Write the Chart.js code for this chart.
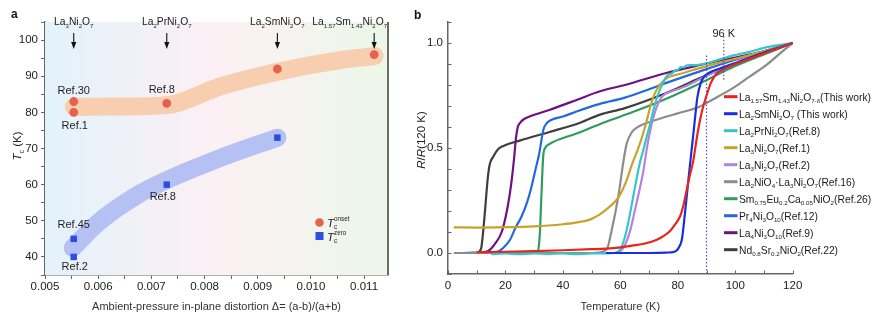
<!DOCTYPE html>
<html>
<head>
<meta charset="utf-8">
<script src="https://cdn.jsdelivr.net/npm/chart.js@4.4.1/dist/chart.umd.min.js"></script>
<style>
  html, body { margin: 0; padding: 0; background: #fff; }
  #wrap { position: relative; width: 878px; height: 321px; overflow: hidden; }
  #cA { position: absolute; left: 0; top: 0; }
  #cB { position: absolute; left: 410px; top: 0; }
</style>
</head>
<body>
<div id="wrap">
  <canvas id="cA" width="410" height="321"></canvas>
  <canvas id="cB" width="468" height="321"></canvas>
</div>
<script>
// ---------- Panel a: Tc versus in-plane distortion ----------
const deltaOnset = [0.00554, 0.00554, 0.00729, 0.00937, 0.01119];
const tcOnset    = [83, 80, 82.5, 92, 96];
const deltaZero  = [0.00554, 0.00554, 0.00729, 0.00937];
const tcZero     = [45, 40, 60, 73];

// guide bands drawn behind the points
const onsetBandX = [0.00554, 0.0064, 0.0073, 0.0083, 0.0094, 0.0104, 0.0112];
const onsetBandY = [81.5, 81.6, 82.0, 87.2, 91.3, 94.1, 95.6];
const zeroBandX  = [0.00552, 0.0060, 0.0067, 0.0073, 0.0085, 0.00937];
const zeroBandY  = [42.5, 49.5, 56.8, 61.3, 68.5, 73.0];

const compoundNames = ['La_{3}Ni_{2}O_{7}', 'La_{2}PrNi_{2}O_{7}', 'La_{2}SmNi_{2}O_{7}', 'La_{1.57}Sm_{1.43}Ni_{2}O_{7}'];
const compoundDelta = [0.00554, 0.00729, 0.00937, 0.01119];

const onsetRefs = ['Ref.30', 'Ref.1', 'Ref.8', '', ''];
const zeroRefs  = ['Ref.45', 'Ref.2', 'Ref.8', ''];

const xTicksA = [0.005, 0.006, 0.007, 0.008, 0.009, 0.010, 0.011];
const yTicksA = [40, 50, 60, 70, 80, 90, 100];

// ---------- Panel b: normalized resistance curves ----------
const T_la157 = [10, 20, 30, 40, 50, 55, 60, 64, 68.6, 72.7, 75, 77.3, 79, 80.8, 82, 83.1, 84.2, 85.4, 86.3, 87.1, 88.5, 90, 91.5, 93.5, 96, 100, 105, 110, 115, 120];
const R_la157 = [0.004, 0.006, 0.009, 0.013, 0.018, 0.021, 0.027, 0.035, 0.045, 0.063, 0.08, 0.105, 0.135, 0.175, 0.23, 0.30, 0.37, 0.44, 0.52, 0.587, 0.68, 0.75, 0.81, 0.855, 0.875, 0.9, 0.925, 0.95, 0.975, 1.0];

const T_la2sm = [55, 60, 70, 76, 78.5, 79.6, 80.5, 81.4, 82.5, 83.7, 84.8, 85.6, 86.8, 88, 89.5, 92, 96, 100, 110, 120];
const R_la2sm = [0.0, 0.0, 0.0, 0.002, 0.005, 0.012, 0.03, 0.063, 0.19, 0.35, 0.49, 0.59, 0.74, 0.81, 0.845, 0.865, 0.885, 0.905, 0.955, 1.0];

const T_la2pr = [15, 20, 25, 30, 35, 40, 45, 50, 57, 59.9, 61, 62.2, 63.4, 64.5, 65.6, 66.8, 68, 69.2, 70.5, 71.5, 73, 75, 76, 77, 78, 79, 80, 81, 82, 83, 84, 86, 89, 93, 99, 105, 111, 120];
const R_la2pr = [-0.006, -0.002, -0.006, -0.002, -0.005, -0.002, -0.006, -0.002, -0.001, 0.016, 0.05, 0.11, 0.19, 0.27, 0.35, 0.43, 0.49, 0.555, 0.62, 0.68, 0.75, 0.815, 0.84, 0.85, 0.855, 0.868, 0.872, 0.885, 0.884, 0.893, 0.895, 0.895, 0.9, 0.915, 0.94, 0.958, 0.98, 1.0];

const T_la3ref1 = [2, 10, 20, 30, 35, 40, 45, 49.4, 53, 56.4, 58.5, 60, 62, 64, 66, 67.5, 69, 70.5, 72, 74, 76.5, 80, 85, 90, 100, 110, 120];
const R_la3ref1 = [0.122, 0.121, 0.123, 0.127, 0.131, 0.137, 0.146, 0.159, 0.185, 0.222, 0.25, 0.28, 0.34, 0.42, 0.49, 0.55, 0.62, 0.70, 0.76, 0.805, 0.835, 0.85, 0.87, 0.89, 0.925, 0.96, 1.0];

const T_la3ref2 = [50, 58, 60.5, 62, 63.5, 65, 66.5, 68, 69.5, 71, 72.5, 74, 75.5, 78, 82, 88, 95, 105, 120];
const R_la3ref2 = [0.0, 0.0, 0.015, 0.05, 0.11, 0.2, 0.29, 0.39, 0.52, 0.62, 0.69, 0.735, 0.757, 0.77, 0.79, 0.83, 0.875, 0.93, 1.0];

const T_la2nio4 = [2, 10, 20, 30, 40, 50, 55.2, 57, 59.3, 61, 62.2, 64, 65.5, 69.2, 75, 80, 87.7, 92, 99.3, 105, 111, 116, 120];
const R_la2nio4 = [0.0, 0.0, 0.0, 0.0, 0.0, 0.0, 0.016, 0.11, 0.27, 0.43, 0.52, 0.575, 0.595, 0.619, 0.645, 0.665, 0.698, 0.73, 0.786, 0.84, 0.897, 0.955, 1.0];

const T_smeuca = [10, 20, 31, 31.5, 32, 32.3, 32.6, 32.9, 33.2, 33.8, 35, 45, 55, 65, 76, 88, 100, 110, 120];
const R_smeuca = [0.0, 0.0, 0.0, 0.02, 0.1, 0.2, 0.3, 0.4, 0.47, 0.5, 0.516, 0.57, 0.625, 0.675, 0.735, 0.81, 0.89, 0.945, 1.0];

const T_pr4 = [12, 17, 19.3, 21.6, 23.5, 25.6, 27.5, 29.1, 30.5, 31.8, 33.2, 34.5, 36.1, 40, 45, 52.9, 61.6, 70, 76, 87.7, 100, 110, 120];
const R_pr4 = [0.0, 0.005, 0.025, 0.063, 0.12, 0.174, 0.24, 0.317, 0.4, 0.476, 0.587, 0.62, 0.635, 0.65, 0.675, 0.71, 0.74, 0.78, 0.81, 0.865, 0.92, 0.96, 1.0];

const T_la4 = [10, 14, 16.4, 18.7, 20.5, 21.5, 22.2, 23, 23.6, 24.3, 25.1, 26.5, 28, 35, 45, 52.9, 61.6, 76, 87.7, 96, 110, 120];
const R_la4 = [0.0, 0.01, 0.045, 0.1, 0.2, 0.28, 0.35, 0.45, 0.54, 0.6, 0.62, 0.638, 0.648, 0.68, 0.73, 0.77, 0.8, 0.857, 0.895, 0.92, 0.96, 1.0];

const T_nd = [5, 10, 11.5, 12.3, 13, 13.8, 14.5, 15.8, 17.5, 19.3, 25, 35, 46, 52.9, 61.6, 76, 87.7, 100, 110, 120];
const R_nd = [0.0, 0.002, 0.02, 0.11, 0.22, 0.35, 0.42, 0.46, 0.495, 0.51, 0.535, 0.575, 0.62, 0.659, 0.69, 0.762, 0.833, 0.9, 0.95, 1.0];

const legendLabels = [
  'La_{1.57}Sm_{1.43}Ni_{2}O_{7-δ}(This work)',
  'La_{2}SmNi_{2}O_{7} (This work)',
  'La_{2}PrNi_{2}O_{7}(Ref.8)',
  'La_{3}Ni_{2}O_{7}(Ref.1)',
  'La_{3}Ni_{2}O_{7}(Ref.2)',
  'La_{2}NiO_{4}·La_{3}Ni_{2}O_{7}(Ref.16)',
  'Sm_{0.75}Eu_{0.2}Ca_{0.05}NiO_{2}(Ref.26)',
  'Pr_{4}Ni_{3}O_{10}(Ref.12)',
  'La_{4}Ni_{3}O_{10}(Ref.9)',
  'Nd_{0.8}Sr_{0.2}NiO_{2}(Ref.22)'
];

// dotted markers at 90 K and 96 K
const refLineT    = [90, 96];
const refLineLow  = [-0.1, 0.825];
const refLineHigh = [0.944, 1.04];
const refLineText = ['', '96 K'];

const xTicksB = [0, 20, 40, 60, 80, 100, 120];
const yTicksB = [0, 0.5, 1.0];

// ---------- drawing helpers ----------
const FONT = '"Liberation Sans", Arial, Helvetica, sans-serif';
Chart.defaults.font.family = FONT;

function parseRich(s) {
  const runs = [];
  let buf = '', italic = false, i = 0;
  const flush = () => { if (buf) { runs.push({ t: buf, kind: 'n', italic }); buf = ''; } };
  while (i < s.length) {
    const ch = s[i];
    if ((ch === '_' || ch === '^') && s[i + 1] === '{') {
      flush();
      const end = s.indexOf('}', i);
      runs.push({ t: s.slice(i + 2, end), kind: ch === '_' ? 'sub' : 'sup', italic: false });
      i = end + 1;
    } else if (ch === '~') {
      flush(); italic = !italic; i++;
    } else { buf += ch; i++; }
  }
  flush();
  return runs;
}

function layoutRich(ctx, s, size, subScale) {
  const runs = parseRich(s);
  const small = +(size * (subScale || 0.62)).toFixed(1);
  const items = [];
  let w = 0;
  for (let k = 0; k < runs.length; k++) {
    const r = runs[k];
    if (r.kind === 'n') {
      ctx.font = (r.italic ? 'italic ' : '') + size + 'px ' + FONT;
      items.push({ t: r.t, x: w, dy: 0, font: ctx.font });
      w += ctx.measureText(r.t).width;
    } else {
      ctx.font = small + 'px ' + FONT;
      const dyOf = kind => kind === 'sub' ? size * 0.26 : -size * 0.45;
      const mw = ctx.measureText(r.t).width;
      items.push({ t: r.t, x: w, dy: dyOf(r.kind), font: ctx.font });
      let adv = mw;
      const nx = runs[k + 1];
      if (nx && nx.kind !== 'n' && nx.kind !== r.kind) {
        const mw2 = ctx.measureText(nx.t).width;
        items.push({ t: nx.t, x: w, dy: dyOf(nx.kind), font: ctx.font });
        adv = Math.max(mw, mw2);
        k++;
      }
      w += adv;
    }
  }
  return { items, w };
}

function drawRich(ctx, s, x, y, size, align, color, subScale) {
  const L = layoutRich(ctx, s, size, subScale);
  const x0 = align === 'center' ? x - L.w / 2 : align === 'right' ? x - L.w : x;
  ctx.save();
  ctx.fillStyle = color || '#222';
  ctx.textAlign = 'left';
  ctx.textBaseline = 'alphabetic';
  for (const it of L.items) { ctx.font = it.font; ctx.fillText(it.t, x0 + it.x, y + it.dy); }
  ctx.restore();
  return L.w;
}

const near = (v, list) => list.some(t => Math.abs(v - t) < 1e-7);

// ---------- panel a plugins ----------
const panelABackground = {
  id: 'panelABackground',
  beforeDatasetsDraw(chart) {
    const { ctx, chartArea: a } = chart;
    const g = ctx.createLinearGradient(a.left, 0, a.right, 0);
    g.addColorStop(0, '#e3f2fb');
    g.addColorStop(0.5, '#fcf0f4');
    g.addColorStop(1, '#ecf7e9');
    ctx.save();
    ctx.fillStyle = g;
    ctx.fillRect(a.left, a.top, a.right - a.left, a.bottom - a.top);
    ctx.restore();
  }
};

const panelAText = {
  id: 'panelAText',
  afterDraw(chart) {
    const { ctx, chartArea: a, scales: { x, y } } = chart;
    ctx.save();
    // right frame line
    ctx.strokeStyle = '#6a6a6a';
    ctx.lineWidth = 2;
    ctx.beginPath();
    ctx.moveTo(a.right, a.top);
    ctx.lineTo(a.right, a.bottom);
    ctx.stroke();

    // panel letter
    ctx.fillStyle = '#111';
    ctx.font = 'bold 12px ' + FONT;
    ctx.textBaseline = 'middle';
    ctx.fillText('a', 11, 15);

    // y title
    ctx.save();
    ctx.translate(17, 146);
    ctx.rotate(-Math.PI / 2);
    drawRich(ctx, '~T~_{c} (K)', 0, 4, 11.5, 'center', '#222');
    ctx.restore();

    // compound names with arrows
    compoundNames.forEach((name, i) => {
      const px = x.getPixelForValue(compoundDelta[i]);
      const L = layoutRich(ctx, name, 10.3, 0.58);
      const cx = Math.min(px, a.right - L.w / 2 - 1);
      drawRich(ctx, name, cx, 25.3, 10.3, 'center', '#1a1a1a', 0.58);
      ctx.strokeStyle = '#111';
      ctx.fillStyle = '#111';
      ctx.lineWidth = 1.1;
      ctx.beginPath();
      ctx.moveTo(px, 33);
      ctx.lineTo(px, 44);
      ctx.stroke();
      ctx.beginPath();
      ctx.moveTo(px - 2.6, 42);
      ctx.lineTo(px + 2.6, 42);
      ctx.lineTo(px, 49);
      ctx.closePath();
      ctx.fill();
    });

    // reference labels next to the points
    const offsOnset = [[0, -11], [1, 14], [-5, -13]];
    const offsZero = [[0, -14], [1, 10], [-4, 12]];
    ctx.font = '11px ' + FONT;
    ctx.fillStyle = '#1e1e1e';
    ctx.textAlign = 'center';
    ctx.textBaseline = 'middle';
    onsetRefs.forEach((t, i) => {
      if (!t) return;
      const px = x.getPixelForValue(deltaOnset[i]), py = y.getPixelForValue(tcOnset[i]);
      ctx.fillText(t, px + offsOnset[i][0], py + offsOnset[i][1]);
    });
    zeroRefs.forEach((t, i) => {
      if (!t) return;
      const px = x.getPixelForValue(deltaZero[i]), py = y.getPixelForValue(tcZero[i]);
      ctx.fillText(t, px + offsZero[i][0], py + offsZero[i][1]);
    });

    // legend
    ctx.fillStyle = '#e9604c';
    ctx.beginPath();
    ctx.arc(319.5, 222.5, 4.3, 0, Math.PI * 2);
    ctx.fill();
    ctx.fillStyle = '#2d4de0';
    ctx.fillRect(315.5, 232, 8, 8);
    drawRich(ctx, '~T~_{c}^{onset}', 327, 226.5, 11.5, 'left', '#222', 0.55);
    drawRich(ctx, '~T~_{c}^{zero}', 327, 240.5, 11.5, 'left', '#222', 0.55);
    ctx.restore();
  }
};

const chartA = new Chart(document.getElementById('cA'), {
  type: 'scatter',
  data: {
    datasets: [
      {
        label: 'Tc onset',
        data: deltaOnset.map((d, i) => ({ x: d, y: tcOnset[i] })),
        pointStyle: 'circle', pointRadius: 4.4, backgroundColor: '#e9604c', borderWidth: 0
      },
      {
        label: 'Tc zero',
        data: deltaZero.map((d, i) => ({ x: d, y: tcZero[i] })),
        pointStyle: 'rect', pointRadius: 4.6, backgroundColor: '#2d4de0', borderWidth: 0
      },
      {
        label: 'onset band',
        data: onsetBandX.map((d, i) => ({ x: d, y: onsetBandY[i] })),
        showLine: true, borderColor: '#f7cfb0', borderWidth: 18,
        borderCapStyle: 'round', borderJoinStyle: 'round',
        cubicInterpolationMode: 'monotone', pointRadius: 0, fill: false
      },
      {
        label: 'zero band',
        data: zeroBandX.map((d, i) => ({ x: d, y: zeroBandY[i] })),
        showLine: true, borderColor: '#b5c0f3', borderWidth: 18,
        borderCapStyle: 'round', borderJoinStyle: 'round',
        cubicInterpolationMode: 'monotone', pointRadius: 0, fill: false
      }
    ]
  },
  options: {
    responsive: false,
    animation: false,
    events: [],
    layout: { padding: { left: 0, right: 22, top: 22, bottom: 0 } },
    plugins: { legend: { display: false }, tooltip: { enabled: false } },
    scales: {
      x: {
        type: 'linear', min: 0.005, max: 0.01145,
        afterFit(s) { s.height = 46; },
        ticks: {
          stepSize: 0.0005, includeBounds: false, autoSkip: false, maxRotation: 0,
          callback: v => near(v, xTicksA) ? v.toFixed(3) : '',
          font: { size: 11.5 }, color: '#222', padding: 1
        },
        grid: { drawOnChartArea: false, drawTicks: true, tickLength: 4, color: '#666' },
        border: { color: '#666', width: 1.5 },
        title: {
          display: true, text: 'Ambient-pressure in-plane distortion Δ= (a-b)/(a+b)',
          font: { size: 11 }, color: '#333', padding: { top: 0, bottom: 7 }
        }
      },
      y: {
        min: 35, max: 105,
        afterFit(s) { s.width = 45; },
        ticks: {
          stepSize: 5, includeBounds: false, autoSkip: false,
          callback: v => near(v, yTicksA) ? String(v) : '',
          font: { size: 11.5 }, color: '#222', padding: 3
        },
        grid: { drawOnChartArea: false, drawTicks: true, tickLength: 4, color: '#666' },
        border: { color: '#666', width: 1.5 }
      }
    }
  },
  plugins: [panelABackground, panelAText]
});

// ---------- panel b ----------
const seriesList = [
  { T: T_la157,   R: R_la157,   color: '#e8241c' },
  { T: T_la2sm,   R: R_la2sm,   color: '#1b2de0' },
  { T: T_la2pr,   R: R_la2pr,   color: '#35c7c7' },
  { T: T_la3ref1, R: R_la3ref1, color: '#c9a22a' },
  { T: T_la3ref2, R: R_la3ref2, color: '#b682e0' },
  { T: T_la2nio4, R: R_la2nio4, color: '#8c8c8c' },
  { T: T_smeuca,  R: R_smeuca,  color: '#2f9c60' },
  { T: T_pr4,     R: R_pr4,     color: '#2469dc' },
  { T: T_la4,     R: R_la4,     color: '#6e1282' },
  { T: T_nd,      R: R_nd,      color: '#3e3e3e' }
];

const refDatasets = refLineT.map((t, i) => ({
  label: 'ref ' + t,
  data: [{ x: t, y: refLineLow[i] }, { x: t, y: refLineHigh[i] }],
  showLine: true, borderColor: '#6b45c8', borderWidth: 1.2, borderDash: [1.5, 2],
  pointRadius: 0, fill: false
}));

const curveDatasets = seriesList.map((s, i) => ({
  label: legendLabels[i],
  data: s.T.map((t, j) => ({ x: t, y: s.R[j] })),
  showLine: true, borderColor: s.color, borderWidth: 2.2,
  cubicInterpolationMode: 'monotone', pointRadius: 0, fill: false
}));

// tick marks pointing into the plot
const inwardTicks = {
  id: 'inwardTicks',
  afterDraw(chart) {
    const { ctx, chartArea: a, scales: { x, y } } = chart;
    ctx.save();
    ctx.strokeStyle = '#666';
    ctx.lineWidth = 1;
    ctx.beginPath();
    x.ticks.forEach(t => {
      const px = Math.round(x.getPixelForValue(t.value)) + 0.5;
      ctx.moveTo(px, a.bottom);
      ctx.lineTo(px, a.bottom - 3.5);
    });
    y.ticks.forEach(t => {
      const py = Math.round(y.getPixelForValue(t.value)) + 0.5;
      ctx.moveTo(a.left, py);
      ctx.lineTo(a.left + 3.5, py);
    });
    ctx.stroke();
    ctx.restore();
  }
};

const panelBText = {
  id: 'panelBText',
  afterDraw(chart) {
    const { ctx, scales: { x } } = chart;
    ctx.save();
    ctx.fillStyle = '#111';
    ctx.font = 'bold 12px ' + FONT;
    ctx.textBaseline = 'middle';
    ctx.fillText('b', 4, 16);

    // y title
    ctx.save();
    ctx.translate(11, 140);
    ctx.rotate(-Math.PI / 2);
    drawRich(ctx, '~R~/~R~(120 K)', 0, 4, 11.5, 'center', '#222');
    ctx.restore();

    // label of the dotted marker
    refLineText.forEach((t, i) => {
      if (!t) return;
      drawRich(ctx, t, x.getPixelForValue(refLineT[i]), 37, 11, 'center', '#222');
    });

    // legend
    const lx = 314, y0 = 96.7, dy = 17.0;
    seriesList.forEach((s, i) => {
      const yy = y0 + i * dy;
      ctx.strokeStyle = s.color;
      ctx.lineWidth = 3;
      ctx.beginPath();
      ctx.moveTo(lx, yy);
      ctx.lineTo(lx + 13.5, yy);
      ctx.stroke();
      drawRich(ctx, legendLabels[i], lx + 15, yy + 3.8, 10.3, 'left', '#1a1a1a', 0.6);
    });
    ctx.restore();
  }
};

const chartB = new Chart(document.getElementById('cB'), {
  type: 'scatter',
  data: { datasets: [...refDatasets, ...curveDatasets] },
  options: {
    responsive: false,
    animation: false,
    events: [],
    layout: { padding: { left: 0, right: 85.3, top: 22, bottom: 0 } },
    plugins: { legend: { display: false }, tooltip: { enabled: false } },
    scales: {
      x: {
        type: 'linear', min: 0, max: 120,
        afterFit(s) { s.height = 47; },
        ticks: {
          stepSize: 10, autoSkip: false, maxRotation: 0,
          callback: v => near(v, xTicksB) ? String(v) : '',
          font: { size: 11.5 }, color: '#222', padding: 5
        },
        grid: { drawOnChartArea: false, drawTicks: false },
        border: { color: '#666', width: 1.5 },
        title: {
          display: true, text: 'Temperature (K)',
          font: { size: 11 }, color: '#333', padding: { top: 0, bottom: 7 }
        }
      },
      y: {
        min: -0.1, max: 1.1,
        afterFit(s) { s.width = 38; },
        ticks: {
          stepSize: 0.1, autoSkip: false,
          callback: v => near(v, yTicksB) ? v.toFixed(1) : '',
          font: { size: 11.5 }, color: '#222', padding: 5
        },
        grid: { drawOnChartArea: false, drawTicks: false },
        border: { color: '#666', width: 1.5 }
      }
    }
  },
  plugins: [inwardTicks, panelBText]
});
</script>
</body>
</html>
